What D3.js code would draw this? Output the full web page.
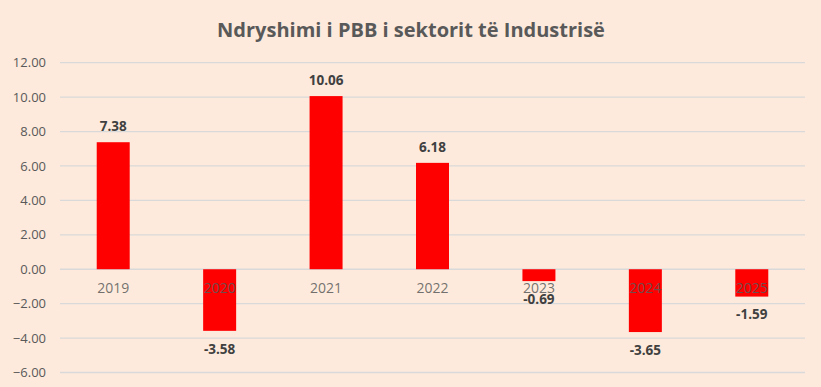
<!DOCTYPE html>
<html>
<head>
<meta charset="utf-8">
<script src="https://cdn.jsdelivr.net/npm/d3@7"></script>
<style>
  body { margin: 0; background: #fdeadc; }
  svg { display: block; font-family: "Open Sans", "Noto Sans", sans-serif; }
</style>
</head>
<body>
<svg id="chart" width="821" height="387"></svg>
<script>
// data
var years = ['2019', '2020', '2021', '2022', '2023', '2024', '2025'];
var change = [7.38, -3.58, 10.06, 6.18, -0.69, -3.65, -1.59];
var yTicks = [-6, -4, -2, 0, 2, 4, 6, 8, 10, 12];
var title = 'Ndryshimi i PBB i sektorit të Industrisë';

var svg = d3.select('#chart');
var W = 821, H = 387;
var plotLeft = 60, plotRight = 805, plotTop = 62.7, plotBottom = 372.5;

svg.append('rect').attr('width', W).attr('height', H).attr('fill', '#fdeadc');

var x = d3.scaleBand().domain(years).range([plotLeft, plotRight])
  .paddingInner(0.69).paddingOuter(0.345);
var y = d3.scaleLinear().domain([-6, 12]).range([plotBottom, plotTop]);

// gridlines
svg.append('g')
  .selectAll('line')
  .data(yTicks)
  .join('line')
  .attr('x1', plotLeft).attr('x2', plotRight)
  .attr('y1', d => y(d)).attr('y2', d => y(d))
  .attr('stroke', '#d9d9d9').attr('stroke-width', 1.3);

// y axis labels
var yAxis = d3.axisLeft(y).tickValues(yTicks).tickFormat(d3.format('.2f')).tickSize(0).tickPadding(0);
svg.append('g')
  .attr('transform', 'translate(46,0)')
  .call(yAxis)
  .call(g => g.select('.domain').remove())
  .selectAll('text')
  .attr('fill', '#595959').style('font-size', '13px').style('font-family', '"Open Sans", sans-serif');

// bars
svg.append('g')
  .selectAll('rect')
  .data(change)
  .join('rect')
  .attr('x', (d, i) => x(years[i]))
  .attr('width', x.bandwidth())
  .attr('y', d => y(Math.max(0, d)))
  .attr('height', d => Math.abs(y(d) - y(0)))
  .attr('fill', '#ff0000');

// category labels (drawn over bars)
var xAxis = d3.axisBottom(x).tickSize(0).tickPadding(0);
svg.append('g')
  .attr('transform', 'translate(0,' + (y(0) + 14) + ')')
  .call(xAxis)
  .call(g => g.select('.domain').remove())
  .selectAll('text')
  .attr('fill', '#595959').attr('fill-opacity', 0.85)
  .style('font-size', '14px').style('font-family', '"Open Sans", sans-serif');

// value labels
svg.append('g')
  .selectAll('text')
  .data(change)
  .join('text')
  .attr('x', (d, i) => x(years[i]) + x.bandwidth() / 2)
  .attr('y', d => d >= 0 ? y(d) - 16 : y(d) + 18)
  .attr('dy', '0.35em')
  .attr('text-anchor', 'middle')
  .attr('fill', '#404040')
  .style('font-size', '13.5px').style('font-weight', 'bold')
  .text(d => d.toFixed(2));

// title
svg.append('text')
  .attr('x', 411).attr('y', 30)
  .attr('dy', '0.35em')
  .attr('text-anchor', 'middle')
  .attr('fill', '#595959')
  .style('font-size', '20px').style('font-weight', 'bold')
  .text(title);
</script>
</body>
</html>
